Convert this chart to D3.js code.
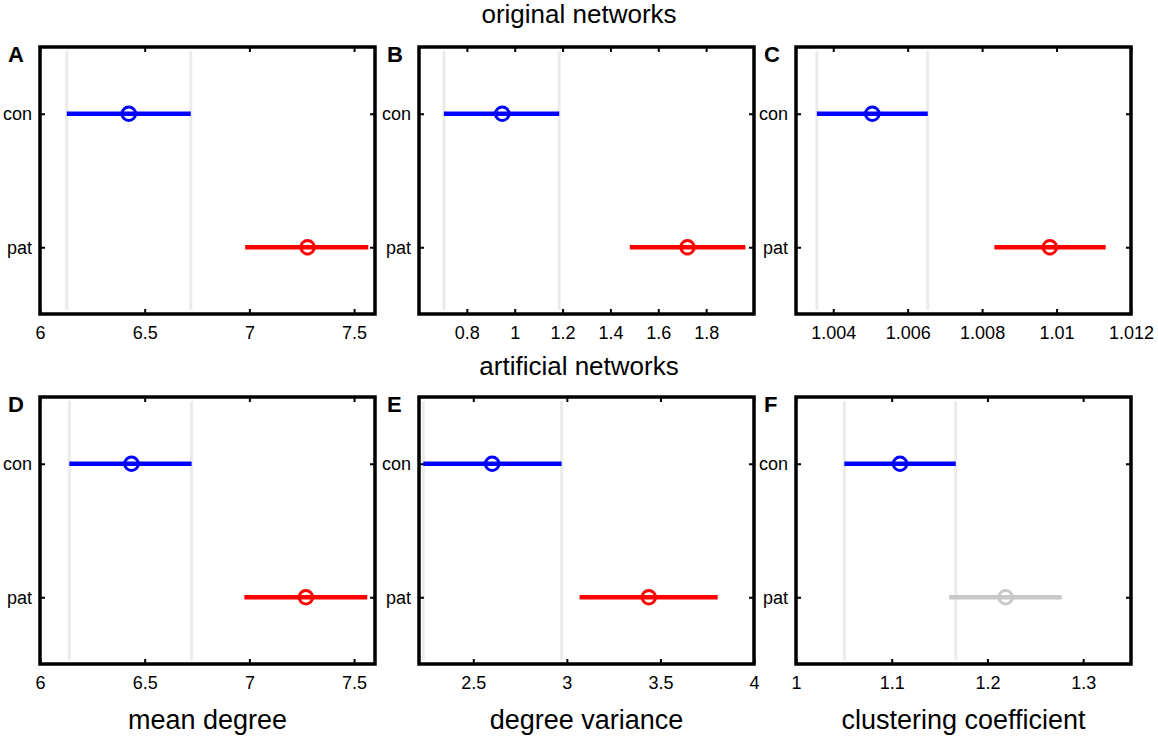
<!DOCTYPE html>
<meta charset="utf-8">
<head>
<script src="https://d3js.org/d3.v7.min.js"></script>
<style>
body { margin: 0; background: #fff; }
text { font-family: "Liberation Sans", Arial, sans-serif; fill: #000; }
</style>
</head>
<body>
<script>

// Data
var categories = ["con", "pat"];
var panelLetters = ["A", "B", "C", "D", "E", "F"];
var rowTitles = ["original networks", "artificial networks"];
var measures = ["mean degree", "degree variance", "clustering coefficient"];

var xDomains = [[6, 7.6], [0.6, 2.0], [1.003, 1.012],
                [6, 7.6], [2.21, 4], [1, 1.35]];
var xTicks = [[6, 6.5, 7, 7.5],
              [0.8, 1, 1.2, 1.4, 1.6, 1.8],
              [1.004, 1.006, 1.008, 1.01, 1.012],
              [6, 6.5, 7, 7.5],
              [2.5, 3, 3.5, 4],
              [1, 1.1, 1.2, 1.3]];

var conMean = [6.424, 0.948, 1.00505, 6.437, 2.601, 1.1087];
var conLow  = [6.128, 0.704, 1.00356, 6.140, 2.233, 1.0505];
var conHigh = [6.720, 1.186, 1.00654, 6.724, 2.972, 1.1669];
var patMean = [7.278, 1.722, 1.00982, 7.270, 3.438, 1.219];
var patLow  = [6.980, 1.481, 1.00833, 6.976, 3.068, 1.160];
var patHigh = [7.568, 1.964, 1.01132, 7.563, 3.806, 1.2776];
var patSignificant = [true, true, true, true, true, false];

// Layout
var W = 1158, H = 741;
var colLeft = [40, 419, 796], panelW = 335;
var rowTop = [47, 397], panelH = 267;
var FONT = "'Liberation Sans', Arial, sans-serif";

var svg = d3.select("body").append("svg")
    .attr("width", W)
    .attr("height", H);

// Row titles
rowTitles.forEach(function(t, r) {
  svg.append("text")
      .attr("x", 579)
      .attr("y", r == 0 ? 23 : 375)
      .attr("text-anchor", "middle")
      .style("font-size", "26px")
      .text(t);
});

// Measure labels under bottom row
measures.forEach(function(m, c) {
  svg.append("text")
      .attr("x", colLeft[c] + panelW / 2)
      .attr("y", 729)
      .attr("text-anchor", "middle")
      .style("font-size", "27px")
      .text(m);
});

var y = d3.scalePoint()
    .domain(categories)
    .range([0, panelH])
    .padding(0.5);

panelLetters.forEach(function(letter, i) {
  var r = Math.floor(i / 3), c = i % 3;
  var g = svg.append("g")
      .attr("transform", "translate(" + colLeft[c] + "," + rowTop[r] + ")");

  var x = d3.scaleLinear().domain(xDomains[i]).range([0, panelW]);

  // grey reference lines at control interval ends
  g.selectAll(".ref")
      .data([conLow[i], conHigh[i]])
      .enter().append("line")
      .attr("x1", function(d) { return x(d); })
      .attr("x2", function(d) { return x(d); })
      .attr("y1", 4)
      .attr("y2", panelH - 4)
      .attr("stroke", "#ebebeb")
      .attr("stroke-width", 3);

  // x axis labels (bottom)
  var xa = g.append("g")
      .attr("transform", "translate(0," + panelH + ")")
      .call(d3.axisBottom(x).tickValues(xTicks[i]).tickSize(-5).tickPadding(12)
            .tickFormat(function(d) { return String(+d.toFixed(4)); }));
  xa.select(".domain").remove();
  xa.selectAll("line").attr("stroke", "#000").attr("stroke-width", 2);
  xa.selectAll("text").style("font-size", "18px").style("font-family", FONT);

  // top ticks
  var xt = g.append("g")
      .call(d3.axisTop(x).tickValues(xTicks[i]).tickSize(-5).tickFormat(""));
  xt.select(".domain").remove();
  xt.selectAll("line").attr("stroke", "#000").attr("stroke-width", 2);

  // y axis
  var ya = g.append("g")
      .call(d3.axisLeft(y).tickSize(-5).tickPadding(8));
  ya.select(".domain").remove();
  ya.selectAll("line").attr("stroke", "#000").attr("stroke-width", 2);
  ya.selectAll("text").style("font-size", "18px").style("font-family", FONT);

  var yr = g.append("g")
      .attr("transform", "translate(" + panelW + ",0)")
      .call(d3.axisRight(y).tickSize(-5).tickFormat(""));
  yr.select(".domain").remove();
  yr.selectAll("line").attr("stroke", "#000").attr("stroke-width", 2);

  // error bars
  var rows = [
    {cat: "con", lo: conLow[i], hi: conHigh[i], m: conMean[i], col: "#0000ff"},
    {cat: "pat", lo: patLow[i], hi: patHigh[i], m: patMean[i],
     col: patSignificant[i] ? "#ff0000" : "#c8c8c8"}
  ];
  g.selectAll(".bar")
      .data(rows)
      .enter().append("line")
      .attr("x1", function(d) { return x(d.lo); })
      .attr("x2", function(d) { return x(d.hi); })
      .attr("y1", function(d) { return y(d.cat); })
      .attr("y2", function(d) { return y(d.cat); })
      .attr("stroke", function(d) { return d.col; })
      .attr("stroke-width", 4.5);
  g.selectAll(".pt")
      .data(rows)
      .enter().append("circle")
      .attr("cx", function(d) { return x(d.m); })
      .attr("cy", function(d) { return y(d.cat); })
      .attr("r", 6.8)
      .attr("fill", "none")
      .attr("stroke", function(d) { return d.col; })
      .attr("stroke-width", 3);

  // frame
  g.append("rect")
      .attr("width", panelW)
      .attr("height", panelH)
      .attr("fill", "none")
      .attr("stroke", "#000")
      .attr("stroke-width", 3.5);

  // panel letter
  g.append("text")
      .attr("x", -32)
      .attr("y", 15)
      .style("font-size", "22px")
      .style("font-weight", "bold")
      .text(letter);
});

</script>
</body>
